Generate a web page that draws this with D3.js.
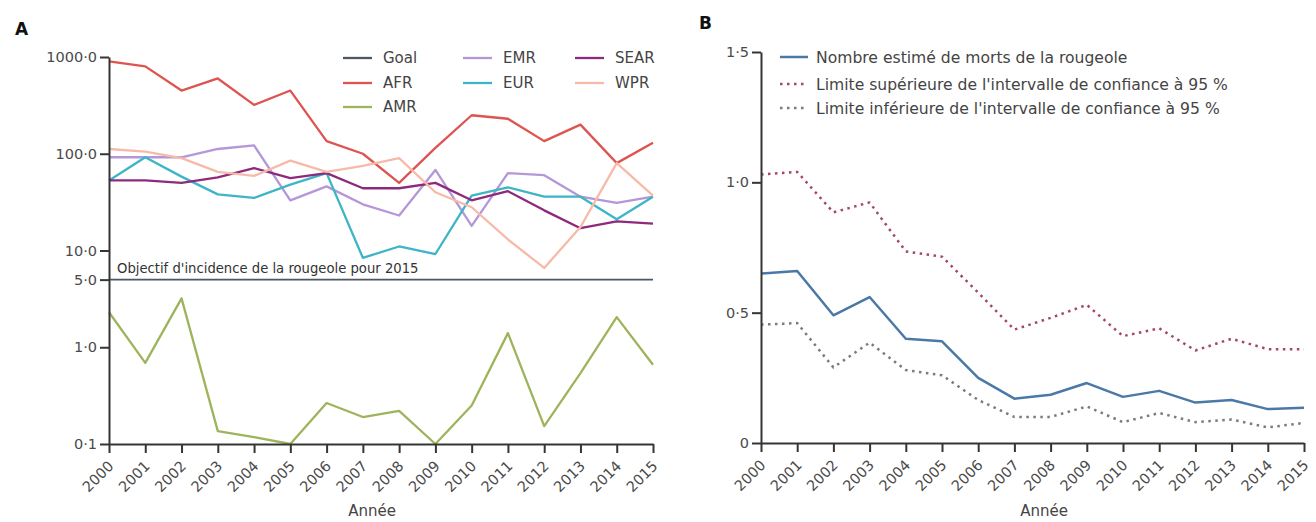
<!DOCTYPE html>
<html>
<head>
<meta charset="utf-8">
<script src="https://cdn.jsdelivr.net/npm/d3@7/dist/d3.min.js"></script>
<style>
  html, body { margin: 0; padding: 0; background: #fff; }
  svg { display: block; font-family: "DejaVu Sans", "Noto Sans", sans-serif; }
</style>
</head>
<body>
<svg id="chart" width="1316" height="522"></svg>
<script>
// ---- data ----
const years = [2000, 2001, 2002, 2003, 2004, 2005, 2006, 2007, 2008, 2009, 2010, 2011, 2012, 2013, 2014, 2015];

// Panel A: measles incidence per million population, by WHO region (log scale)
const goalValue = 5;
const afr  = [900, 800, 450, 600, 320, 450, 135, 100, 50, 115, 250, 230, 135, 200, 80, 130];
const amr  = [2.3, 0.69, 3.2, 0.136, 0.118, 0.1, 0.265, 0.19, 0.22, 0.1, 0.25, 1.4, 0.153, 0.54, 2.05, 0.66];
const emr  = [92, 92, 92, 112, 122, 33, 46, 30, 23, 68, 18, 63, 60, 36, 31, 36];
const eur  = [53, 92, 58, 38, 35, 48, 63, 8.4, 11, 9.2, 37, 45, 36, 36, 21, 36];
const sear = [53, 53, 50, 57, 71, 56, 63, 44, 44, 50, 33, 41, 26, 17, 20, 19];
const wpr  = [112, 105, 90, 65, 59, 85, 65, 75, 90, 40, 28, 13, 6.6, 17.5, 80, 37];
const regionNames = ["AFR", "AMR", "EMR", "EUR", "SEAR", "WPR"];
const regionValues = [afr, amr, emr, eur, sear, wpr];
const regionColors = ["#dd5450", "#9db45c", "#b497d8", "#3db5c6", "#8d2a7d", "#f7baa9"];
const ticksA = [0.1, 1, 5, 10, 100, 1000];

// Panel B: estimated measles deaths (millions) with 95% uncertainty bounds
const deaths = [0.65, 0.66, 0.49, 0.56, 0.40, 0.39, 0.25, 0.17, 0.185, 0.23, 0.177, 0.20, 0.155, 0.165, 0.13, 0.135];
const upper  = [1.03, 1.04, 0.885, 0.923, 0.735, 0.715, 0.577, 0.435, 0.48, 0.53, 0.41, 0.44, 0.355, 0.40, 0.36, 0.36];
const lower  = [0.454, 0.46, 0.29, 0.385, 0.28, 0.26, 0.165, 0.10, 0.10, 0.14, 0.08, 0.115, 0.08, 0.09, 0.06, 0.077];
const ticksB = [0, 0.5, 1.0, 1.5];
const legendB = [
  "Nombre estimé de morts de la rougeole",
  "Limite supérieure de l'intervalle de confiance à 95 %",
  "Limite inférieure de l'intervalle de confiance à 95 %"
];

// ---- helpers ----
const svg = d3.select("#chart");
svg.append("rect").attr("width", 1316).attr("height", 522).attr("fill", "#fff");

const FONT = "'DejaVu Sans', sans-serif";
const dot = s => s.replace(".", "·");
const axisColor = "#353535";
const tickText = "#4a4a4a";

function styleAxis(g) {
  g.select(".domain").attr("stroke", axisColor).attr("stroke-width", 2);
  g.selectAll(".tick line").attr("stroke", axisColor).attr("stroke-width", 2);
  g.selectAll(".tick text").attr("fill", tickText).style("font-size", "14.5px")
    .style("font-family", FONT);
}

function xAxis(x, y0, labelX) {
  const g = svg.append("g").attr("transform", `translate(0,${y0})`)
    .call(d3.axisBottom(x).tickValues(years).tickFormat(d3.format("d")).tickSize(9).tickSizeOuter(0));
  styleAxis(g);
  g.selectAll(".tick text")
    .attr("text-anchor", "end")
    .attr("dy", null)
    .attr("y", 0).attr("x", 0)
    .attr("transform", "translate(5,23) rotate(-45)");
  svg.append("text").attr("x", labelX).attr("y", 516)
    .attr("text-anchor", "middle").attr("fill", "#444").style("font-size", "15px").text("Année");
}

// ---- Panel A ----
const xA = d3.scalePoint().domain(years).range([109, 653]);
const yA = d3.scaleLog().domain([0.1, 1000]).range([444, 57]);

svg.append("text").attr("x", 15).attr("y", 35).attr("font-weight", "bold")
  .style("font-size", "17px").attr("fill", "#111").text("A");

const lineA = d3.line().x((d, i) => xA(years[i])).y(d => yA(d));

// goal line and its caption
svg.append("line").attr("x1", xA(years[0])).attr("x2", xA(years[years.length - 1]))
  .attr("y1", yA(goalValue)).attr("y2", yA(goalValue))
  .attr("stroke", "#4d5863").attr("stroke-width", 1.8);
svg.append("text").attr("x", 117).attr("y", yA(goalValue) - 7)
  .attr("fill", "#333").style("font-size", "13.2px")
  .text("Objectif d'incidence de la rougeole pour 2015");

regionValues.forEach((vals, k) => {
  svg.append("path").datum(vals).attr("d", lineA)
    .attr("fill", "none").attr("stroke", regionColors[k]).attr("stroke-width", 2.3)
    .attr("stroke-linejoin", "round");
});

const yAxisA = svg.append("g").attr("transform", "translate(109,0)")
  .call(d3.axisLeft(yA).tickValues(ticksA).tickFormat(d => dot(d3.format(".1f")(d))).tickSize(9).tickSizeOuter(0));
styleAxis(yAxisA);
yAxisA.selectAll(".tick text").attr("x", -12);
xAxis(xA, 444, 372);

// legend A
const legA = [
  { name: "Goal", color: "#4d5863" },
  { name: "AFR", color: regionColors[0] },
  { name: "AMR", color: regionColors[1] },
  { name: "EMR", color: regionColors[2] },
  { name: "EUR", color: regionColors[3] },
  { name: "SEAR", color: regionColors[4] },
  { name: "WPR", color: regionColors[5] }
];
const legCols = [343, 463, 575];
const legRows = [58, 83, 107];
const legPos = [[0, 0], [0, 1], [0, 2], [1, 0], [1, 1], [2, 0], [2, 1]];
legA.forEach((d, i) => {
  const cx = legCols[legPos[i][0]], cy = legRows[legPos[i][1]];
  svg.append("line").attr("x1", cx).attr("x2", cx + 29).attr("y1", cy).attr("y2", cy)
    .attr("stroke", d.color).attr("stroke-width", 2.3);
  svg.append("text").attr("x", cx + 40).attr("y", cy).attr("dy", "0.36em")
    .attr("fill", "#444").style("font-size", "15px").text(d.name);
});

// ---- Panel B ----
const xB = d3.scalePoint().domain(years).range([761, 1304]);
const yB = d3.scaleLinear().domain([0, 1.5]).range([443, 52]);

svg.append("text").attr("x", 699).attr("y", 29).attr("font-weight", "bold")
  .style("font-size", "17px").attr("fill", "#111").text("B");

const lineB = d3.line().x((d, i) => xB(years[i])).y(d => yB(d));
const seriesB = [
  { vals: deaths, color: "#4a79a7", dash: null },
  { vals: upper, color: "#a54669", dash: "2.5,4.5" },
  { vals: lower, color: "#7b7b7b", dash: "2.5,4.5" }
];
seriesB.forEach(s => {
  svg.append("path").datum(s.vals).attr("d", lineB)
    .attr("fill", "none").attr("stroke", s.color).attr("stroke-width", 2.5)
    .attr("stroke-dasharray", s.dash).attr("stroke-linejoin", "round");
});

const yAxisB = svg.append("g").attr("transform", "translate(761,0)")
  .call(d3.axisLeft(yB).tickValues(ticksB).tickFormat(d => d === 0 ? "0" : dot(d3.format(".1f")(d))).tickSize(9).tickSizeOuter(0));
styleAxis(yAxisB);
yAxisB.selectAll(".tick text").attr("x", -12);
xAxis(xB, 443, 1044);

seriesB.forEach((s, i) => {
  const cy = [57, 84, 108][i];
  svg.append("line").attr("x1", 780).attr("x2", 808).attr("y1", cy).attr("y2", cy)
    .attr("stroke", s.color).attr("stroke-width", 2.5).attr("stroke-dasharray", s.dash);
  svg.append("text").attr("x", 816).attr("y", cy).attr("dy", "0.36em")
    .attr("fill", "#444").style("font-size", "15.6px").text(legendB[i]);
});
</script>
</body>
</html>
